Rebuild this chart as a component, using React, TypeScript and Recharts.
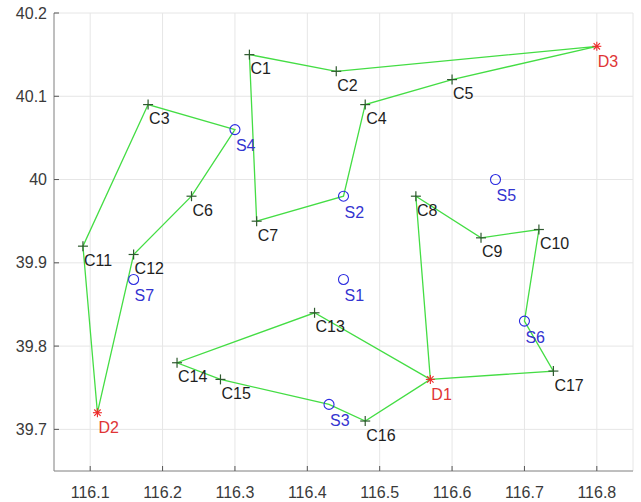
import React from 'react';
import { ScatterChart, Scatter, XAxis, YAxis, CartesianGrid } from 'recharts';

// ---- data ----
const customerNames = ['C1', 'C2', 'C3', 'C4', 'C5', 'C6', 'C7', 'C8', 'C9', 'C10', 'C11', 'C12', 'C13', 'C14', 'C15', 'C16', 'C17'];
const customerX = [116.32, 116.44, 116.18, 116.48, 116.6, 116.24, 116.33, 116.55, 116.64, 116.72, 116.09, 116.16, 116.41, 116.22, 116.28, 116.48, 116.74];
const customerY = [40.15, 40.13, 40.09, 40.09, 40.12, 39.98, 39.95, 39.98, 39.93, 39.94, 39.92, 39.91, 39.84, 39.78, 39.76, 39.71, 39.77];

const stationNames = ['S1', 'S2', 'S3', 'S4', 'S5', 'S6', 'S7'];
const stationX = [116.45, 116.45, 116.43, 116.3, 116.66, 116.7, 116.16];
const stationY = [39.88, 39.98, 39.73, 40.06, 40.0, 39.83, 39.88];

const depotNames = ['D1', 'D2', 'D3'];
const depotX = [116.57, 116.11, 116.8];
const depotY = [39.76, 39.72, 40.16];

const routeA = ['D3', 'C2', 'C1', 'C7', 'S2', 'C4', 'C5', 'D3'];
const routeB = ['D2', 'C11', 'C3', 'S4', 'C6', 'C12', 'D2'];
const routeC = ['D1', 'C8', 'C9', 'C10', 'S6', 'C17', 'D1'];
const routeD = ['D1', 'C13', 'C14', 'C15', 'S3', 'C16', 'D1'];

const xTicks = [116.1, 116.2, 116.3, 116.4, 116.5, 116.6, 116.7, 116.8];
const yTicks = [39.7, 39.8, 39.9, 40, 40.1, 40.2];
const xDomain = [116.05, 116.85];
const yDomain = [39.65, 40.2];

// ---- tables built from the arrays ----
const toPoints = (names: string[], xs: number[], ys: number[]) =>
  names.map((name, i) => ({ name, x: xs[i], y: ys[i] }));

const customers = toPoints(customerNames, customerX, customerY);
const stations = toPoints(stationNames, stationX, stationY);
const depots = toPoints(depotNames, depotX, depotY);
const allPoints = [...customers, ...stations, ...depots];
const lookup: Record<string, { name: string; x: number; y: number }> = {};
allPoints.forEach((p) => (lookup[p.name] = p));
const routes = [routeA, routeB, routeC, routeD].map((r) => r.map((n) => ({ ...lookup[n] })));

// ---- styles ----
const FONT = '"Liberation Sans", Arial, Helvetica, sans-serif';
const LINE_GREEN = '#44dd44';
const AXIS_COLOR = '#8a8a8a';
const TICK_COLOR = '#555555';
const TICK_TEXT = '#3a3a3a';
const TICK_LEN = 5;
const LABEL_SIZE = 16;

const fmt = (v: number) => String(v);

const BottomTick = (props: any) => {
  const { x, y, payload } = props;
  return (
    <g>
      <line x1={x} x2={x} y1={y} y2={y - TICK_LEN} stroke={TICK_COLOR} strokeWidth={1} />
      <text x={x} y={y + 21} textAnchor="middle" dominantBaseline="central" fontFamily={FONT} fontSize={16} fill={TICK_TEXT}>
        {fmt(payload.value)}
      </text>
    </g>
  );
};

const TopTick = (props: any) => {
  const { x, y } = props;
  return <line x1={x} x2={x} y1={y} y2={y + TICK_LEN} stroke={TICK_COLOR} strokeWidth={1} />;
};

const LeftTick = (props: any) => {
  const { x, y, payload } = props;
  return (
    <g>
      <line x1={x} x2={x + TICK_LEN} y1={y} y2={y} stroke={TICK_COLOR} strokeWidth={1} />
      <text x={x - 7} y={y} textAnchor="end" dominantBaseline="central" fontFamily={FONT} fontSize={16} fill={TICK_TEXT}>
        {fmt(payload.value)}
      </text>
    </g>
  );
};

const RightTick = (props: any) => {
  const { x, y } = props;
  return <line x1={x} x2={x - TICK_LEN} y1={y} y2={y} stroke={TICK_COLOR} strokeWidth={1} />;
};

const nameOf = (p: any) => (p.payload && p.payload.name) || p.name;

const CustomerShape = (p: any) => {
  const { cx, cy } = p;
  const s = 5;
  return (
    <g>
      <line x1={cx - s} x2={cx + s} y1={cy} y2={cy} stroke="#2f5a2f" strokeWidth={1.2} />
      <line x1={cx} x2={cx} y1={cy - s} y2={cy + s} stroke="#2f5a2f" strokeWidth={1.2} />
      <text x={cx + 1} y={cy + 14} dominantBaseline="central" fontFamily={FONT} fontSize={LABEL_SIZE} fill="#1e1e1e">
        {nameOf(p)}
      </text>
    </g>
  );
};

const StationShape = (p: any) => {
  const { cx, cy } = p;
  return (
    <g>
      <circle cx={cx} cy={cy} r={5} fill="none" stroke="#2a2ae0" strokeWidth={1.1} />
      <text x={cx + 1} y={cy + 16} dominantBaseline="central" fontFamily={FONT} fontSize={LABEL_SIZE} fill="#3434d0">
        {nameOf(p)}
      </text>
    </g>
  );
};

const DepotShape = (p: any) => {
  const { cx, cy } = p;
  const s = 4.5;
  const d = 3.2;
  const c = '#ee2a2a';
  return (
    <g>
      <line x1={cx - s} x2={cx + s} y1={cy} y2={cy} stroke={c} strokeWidth={1.1} />
      <line x1={cx} x2={cx} y1={cy - s} y2={cy + s} stroke={c} strokeWidth={1.1} />
      <line x1={cx - d} x2={cx + d} y1={cy - d} y2={cy + d} stroke={c} strokeWidth={1.1} />
      <line x1={cx - d} x2={cx + d} y1={cy + d} y2={cy - d} stroke={c} strokeWidth={1.1} />
      <text x={cx + 1} y={cy + 15} dominantBaseline="central" fontFamily={FONT} fontSize={LABEL_SIZE} fill="#e03535">
        {nameOf(p)}
      </text>
    </g>
  );
};

const NoShape = () => <g />;

export default function App() {
  return (
    <div style={{ position: 'absolute', left: 0, top: 0, width: 641, height: 502, background: '#ffffff' }}>
      <ScatterChart width={641} height={502} margin={{ top: 13, right: 8, bottom: 0, left: 0 }}>
        <CartesianGrid stroke="#e6e6e6" strokeWidth={1} />
        <XAxis
          type="number"
          dataKey="x"
          domain={xDomain}
          ticks={xTicks}
          allowDataOverflow
          height={31}
          tickSize={0}
          tickMargin={0}
          tickLine={false}
          axisLine={{ stroke: AXIS_COLOR }}
          tick={<BottomTick />}
          interval={0}
        />
        <XAxis
          xAxisId="top"
          orientation="top"
          type="number"
          dataKey="x"
          domain={xDomain}
          ticks={xTicks}
          allowDataOverflow
          height={0}
          tickSize={0}
          tickMargin={0}
          tickLine={false}
          axisLine={{ stroke: AXIS_COLOR }}
          tick={<TopTick />}
          interval={0}
        />
        <YAxis
          type="number"
          dataKey="y"
          domain={yDomain}
          ticks={yTicks}
          allowDataOverflow
          width={54}
          tickSize={0}
          tickMargin={0}
          tickLine={false}
          axisLine={{ stroke: AXIS_COLOR }}
          tick={<LeftTick />}
          interval={0}
        />
        <YAxis
          yAxisId="right"
          orientation="right"
          type="number"
          dataKey="y"
          domain={yDomain}
          ticks={yTicks}
          allowDataOverflow
          width={0}
          tickSize={0}
          tickMargin={0}
          tickLine={false}
          axisLine={{ stroke: AXIS_COLOR }}
          tick={<RightTick />}
          interval={0}
        />
        {routes.map((r, i) => (
          <Scatter
            key={'route' + i}
            data={r}
            line={{ stroke: LINE_GREEN, strokeWidth: 1.3 }}
            lineType="joint"
            shape={NoShape}
            isAnimationActive={false}
          />
        ))}
        <Scatter data={customers} shape={CustomerShape} isAnimationActive={false} />
        <Scatter data={stations} shape={StationShape} isAnimationActive={false} />
        <Scatter data={depots} shape={DepotShape} isAnimationActive={false} />
      </ScatterChart>
    </div>
  );
}
